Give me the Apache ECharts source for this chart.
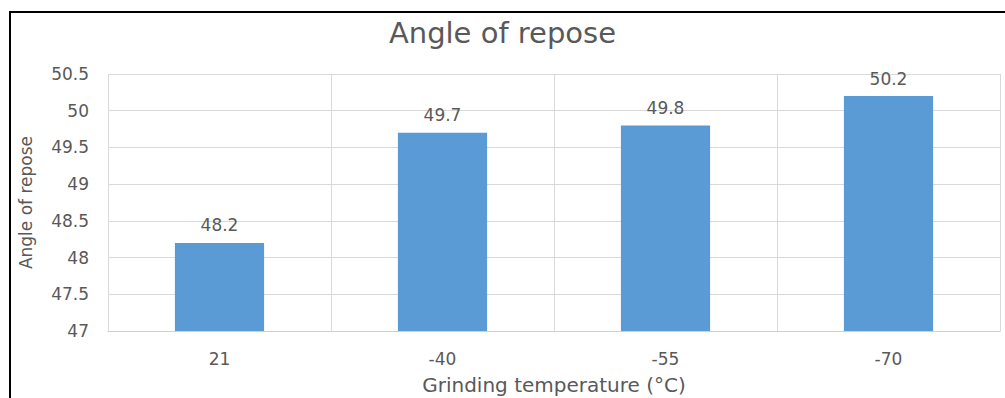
<!DOCTYPE html>
<html>
<head>
<meta charset="utf-8">
<script src="https://cdn.jsdelivr.net/npm/echarts@6/dist/echarts.min.js"></script>
<style>
html,body{margin:0;padding:0;background:#fff;}
#chart{width:1005px;height:398px;}
</style>
</head>
<body>
<div id="chart"></div>
<script>
const categories = ['21', '-40', '-55', '-70'];
const values = [48.2, 49.7, 49.8, 50.2];
const titleText = 'Angle of repose';
const xAxisName = 'Grinding temperature (°C)';
const yAxisName = 'Angle of repose';
const yMin = 47, yMax = 50.5, yStep = 0.5;

const FONT = 'DejaVu Sans';
const GREY = '#595959';

const chart = echarts.init(document.getElementById('chart'), null, {renderer: 'svg'});
chart.setOption({
  animation: false,
  backgroundColor: '#fff',
  title: {
    text: titleText,
    left: 'center',
    top: 13,
    textStyle: {fontFamily: FONT, fontSize: 29, fontWeight: 'normal', color: GREY}
  },
  graphic: [{
    type: 'rect',
    shape: {x: 10, y: 12, width: 1100, height: 500},
    style: {fill: 'none', stroke: '#000', lineWidth: 2},
    silent: true
  }],
  grid: {left: 108, right: 5, top: 74, bottom: 67, containLabel: false, outerBoundsMode: 'none'},
  xAxis: {
    type: 'category',
    data: categories,
    name: xAxisName,
    nameLocation: 'middle',
    nameGap: 44,
    nameTextStyle: {fontFamily: FONT, fontSize: 20, color: GREY},
    axisLine: {show: true, lineStyle: {color: '#CFCFCF', width: 1}},
    axisTick: {show: false},
    axisLabel: {fontFamily: FONT, fontSize: 17, color: GREY, margin: 19},
    splitLine: {show: true, interval: 0, lineStyle: {color: '#D9D9D9', width: 1}}
  },
  yAxis: {
    type: 'value',
    min: yMin,
    max: yMax,
    interval: yStep,
    name: yAxisName,
    nameLocation: 'middle',
    nameGap: 74,
    nameTextStyle: {fontFamily: FONT, fontSize: 17, color: GREY},
    axisLine: {show: false},
    axisTick: {show: false},
    axisLabel: {fontFamily: FONT, fontSize: 17, color: GREY, margin: 19},
    splitLine: {show: true, lineStyle: {color: '#D9D9D9', width: 1}}
  },
  series: [{
    type: 'bar',
    data: values,
    barWidth: '40%',
    itemStyle: {color: '#5B9BD5'},
    label: {
      show: true,
      position: 'top',
      distance: 9,
      fontFamily: FONT,
      fontSize: 17,
      color: GREY
    }
  }]
});
</script>
</body>
</html>
